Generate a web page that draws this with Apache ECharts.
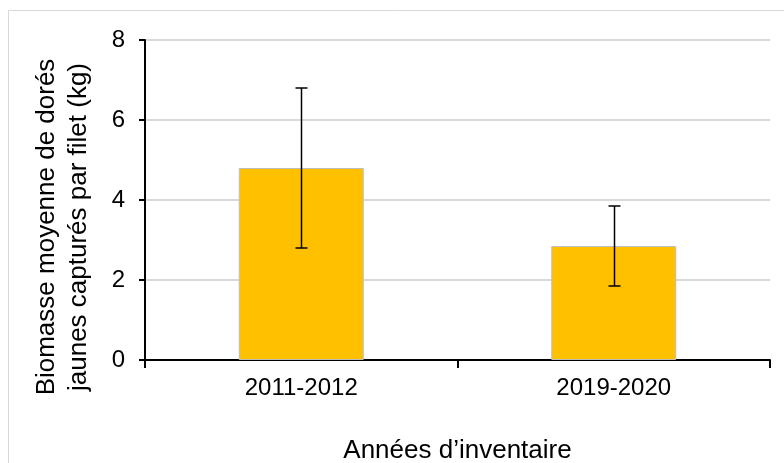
<!DOCTYPE html>
<html>
<head>
<meta charset="utf-8">
<script src="https://cdn.jsdelivr.net/npm/echarts@6/dist/echarts.min.js"></script>
<style>
  html, body { margin: 0; padding: 0; background: #fff; }
  #chart { width: 784px; height: 463px; }
</style>
</head>
<body>
<div id="chart"></div>
<script>
const categories = ['2011-2012', '2019-2020'];
const means = [4.8, 2.85];
const lower = [2.8, 1.85];
const upper = [6.8, 3.85];
const yTicks = [0, 2, 4, 6, 8];

const FONT = '"Liberation Sans", Arial, sans-serif';
const chart = echarts.init(document.getElementById('chart'));

chart.setOption({
  animation: false,
  textStyle: { fontFamily: FONT },
  graphic: [{
    type: 'rect', silent: true, z: -1,
    shape: { x: 8.5, y: 10.5, width: 800, height: 500 },
    style: { fill: 'none', stroke: '#d9d9d9', lineWidth: 1 }
  }],
  grid: { left: 145, right: 14, top: 40, bottom: 103, containLabel: false, outerBoundsMode: 'none' },
  xAxis: {
    type: 'category', data: categories,
    name: 'Années d’inventaire', nameLocation: 'middle', nameGap: 78,
    nameTextStyle: { color: '#000', fontSize: 26, fontFamily: FONT },
    axisLine: { lineStyle: { color: '#000', width: 2 } },
    axisTick: { show: true, length: 8, lineStyle: { color: '#000', width: 2 } },
    axisLabel: { color: '#000', fontSize: 24, margin: 16, fontFamily: FONT }
  },
  yAxis: {
    type: 'value', min: yTicks[0], max: yTicks[yTicks.length - 1], interval: 2,
    name: 'Biomasse moyenne de dorés\njaunes capturés par filet (kg)',
    nameLocation: 'middle', nameGap: 50, nameRotate: 90,
    nameTextStyle: { color: '#000', fontSize: 26, lineHeight: 32, fontFamily: FONT, padding: [0, 54, 0, 0] },
    axisLine: { show: true, lineStyle: { color: '#000', width: 2 } },
    axisTick: { show: true, length: 6, lineStyle: { color: '#000', width: 2 } },
    axisLabel: { color: '#000', fontSize: 24, margin: 20, fontFamily: FONT },
    splitLine: { lineStyle: { color: '#d9d9d9', width: 2 } }
  },
  series: [{
    type: 'bar', data: means, barWidth: '40%',
    itemStyle: { color: '#ffc000', borderColor: '#bfbfbf', borderWidth: 1 }
  }, {
    type: 'custom',
    data: categories.map((c, i) => [i, lower[i], upper[i]]),
    z: 10,
    renderItem: function (params, api) {
      const lo = api.coord([api.value(0), api.value(1)]);
      const hi = api.coord([api.value(0), api.value(2)]);
      const x = Math.round(lo[0]) + 0.5;
      const w = 6;
      const style = { stroke: '#000', lineWidth: 1.5 };
      return {
        type: 'group',
        children: [
          { type: 'line', shape: { x1: x, y1: hi[1], x2: x, y2: lo[1] }, style: style },
          { type: 'line', shape: { x1: x - w, y1: hi[1], x2: x + w, y2: hi[1] }, style: style },
          { type: 'line', shape: { x1: x - w, y1: lo[1], x2: x + w, y2: lo[1] }, style: style }
        ]
      };
    }
  }]
});
</script>
</body>
</html>
